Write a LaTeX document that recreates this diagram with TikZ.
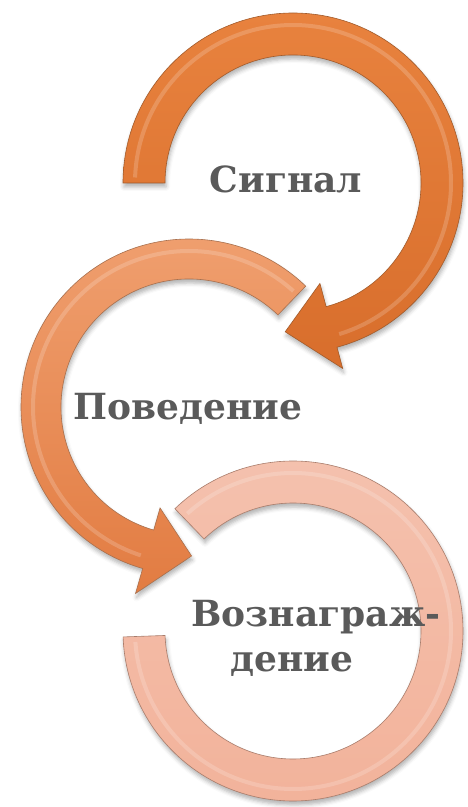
\documentclass[tikz,border=0pt]{standalone}
\usepackage{fontspec}
\setmainfont{DejaVu Serif}
\usetikzlibrary{shadows.blur}

\definecolor{orangeA}{RGB}{232,130,62}
\definecolor{orangeAdark}{RGB}{216,110,44}
\definecolor{orangeB}{RGB}{240,160,112}
\definecolor{orangeBdark}{RGB}{226,124,66}
\definecolor{peachC}{RGB}{242,178,154}
\definecolor{labelgray}{RGB}{90,90,90}

\begin{document}
\begin{tikzpicture}[x=1pt,y=1pt,
    band/.style={draw=#1!70!black, line width=0.6pt,
      blur shadow={shadow xshift=1pt, shadow yshift=-4pt, shadow blur radius=4pt, shadow opacity=30}},
    gloss/.style={line width=4pt, white, opacity=0.18},
    caption/.style={anchor=base, font=\bfseries\fontsize{36}{42}\selectfont, text=labelgray}]
  \useasboundingbox (0,0) rectangle (467,807);
  \coordinate (c1) at (293,624);
  \coordinate (c2) at (189,400);
  \coordinate (c3) at (293,176);

  % third ring, no arrow head
  \shade[band=peachC, top color=peachC!80!white, bottom color=peachC]
    ([shift={(134:170)}]c3) arc[start angle=134, end angle=-178, radius=170]
    -- ([shift={(-178:128)}]c3) arc[start angle=-178, end angle=134, radius=128] -- cycle;
  \draw[gloss] ([shift={(132:158)}]c3) arc[start angle=132, end angle=-176, radius=158];

  % second ring, arrow at the bottom
  \shade[band=orangeB, top color=orangeB, bottom color=orangeBdark]
    ([shift={(46:168)}]c2) arc[start angle=46, end angle=254, radius=168]
    -- ([shift={(254:194)}]c2) -- ([shift={(271:149)}]c2) -- ([shift={(254:105)}]c2)
    -- ([shift={(254:128)}]c2) arc[start angle=254, end angle=46, radius=128] -- cycle;
  \draw[gloss] ([shift={(48:156)}]c2) arc[start angle=48, end angle=252, radius=156];

  % first ring, arrow at the bottom
  \shade[band=orangeA, top color=orangeA, bottom color=orangeAdark]
    ([shift={(180:170)}]c1) arc[start angle=180, end angle=-75, radius=170]
    -- ([shift={(-75:192)}]c1) -- ([shift={(-93:149)}]c1) -- ([shift={(-75:104)}]c1)
    -- ([shift={(-75:128)}]c1) arc[start angle=-75, end angle=180, radius=128] -- cycle;
  \draw[gloss] ([shift={(178:158)}]c1) arc[start angle=178, end angle=-73, radius=158];

  % labels
  \node[caption] (signal) at (286,614) {Сигнал};
  \node[caption] (behav) at (188,387) {Поведение};
  \node[caption] (rewardA) at (316,180) {Вознаграж-};
  \node[caption] (rewardB) at (292,135) {дение};
\end{tikzpicture}
\end{document}
